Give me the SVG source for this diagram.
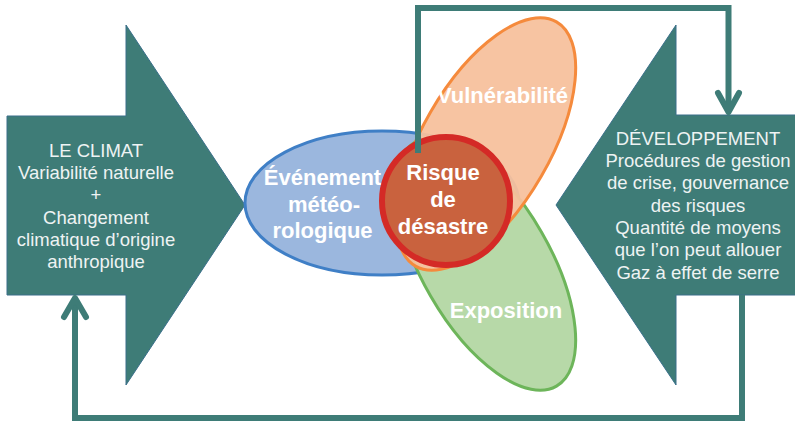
<svg xmlns="http://www.w3.org/2000/svg" width="795" height="422" viewBox="0 0 795 422">
<style>
.arrow{fill:#3e7c77;stroke:#3a6f8a;stroke-width:1}
.conn{fill:none;stroke:#3e7c77;stroke-width:6}
.head{fill:none;stroke:#3e7c77;stroke-width:6;stroke-linecap:round;stroke-linejoin:round}
.lt{font-family:"Liberation Sans",Arial,sans-serif;font-size:18.5px;fill:#eef3f3;text-anchor:middle}
.bt{font-family:"Liberation Sans",Arial,sans-serif;font-size:22px;font-weight:bold;fill:#ffffff;text-anchor:middle}
</style>
<rect width="795" height="422" fill="#ffffff"/>
<g id="climat">
<polygon class="arrow" points="7,116 126,116 126,25 245,205 126,385 126,295 7,295"/>
<text class="lt" x="96" y="157">LE CLIMAT</text>
<text class="lt" x="96" y="179.2">Variabilité naturelle</text>
<text class="lt" x="96" y="201.4">+</text>
<text class="lt" x="96" y="223.6">Changement</text>
<text class="lt" x="96" y="245.8">climatique d’origine</text>
<text class="lt" x="96" y="268">anthropique</text>
</g>
<g id="developpement">
<polygon class="arrow" points="800,115 676,115 676,25 556,205 676,385 676,295 800,295"/>
<text class="lt" x="698" y="145">DÉVELOPPEMENT</text>
<text class="lt" x="698" y="167">Procédures de gestion</text>
<text class="lt" x="698" y="189.3">de crise, gouvernance</text>
<text class="lt" x="698" y="211.6">des risques</text>
<text class="lt" x="698" y="233.9">Quantité de moyens</text>
<text class="lt" x="698" y="256.2">que l’on peut allouer</text>
<text class="lt" x="698" y="278.5">Gaz à effet de serre</text>
</g>
<g id="evenement">
<ellipse cx="382" cy="203" rx="137" ry="72" fill="#9bb7de" stroke="#3f7fc6" stroke-width="3"/>
</g>
<g id="exposition">
<ellipse cx="0" cy="0" rx="141" ry="64" transform="translate(486,264) rotate(60)" fill="#b7d9a8" stroke="#6db55a" stroke-width="3"/>
</g>
<g id="vulnerabilite">
<ellipse cx="0" cy="0" rx="141" ry="64" transform="translate(486,144) rotate(-60)" fill="#f7c19d" fill-opacity="0.95" stroke="#f58a3c" stroke-width="3"/>
</g>
<g id="risque">
<circle cx="446" cy="201" r="64" fill="#c9623e" stroke="#d42a26" stroke-width="6"/>
</g>
<g id="labels">
<text class="bt" x="322.5" y="185">Événement</text>
<text class="bt" x="324" y="212">météo-</text>
<text class="bt" x="322.5" y="238">rologique</text>
<text class="bt" x="502.5" y="103">Vulnérabilité</text>
<text class="bt" x="506" y="318">Exposition</text>
<text class="bt" x="443" y="180">Risque</text>
<text class="bt" x="443" y="207">de</text>
<text class="bt" x="443" y="234">désastre</text>
</g>
<g id="connectors">
<path class="conn" d="M418,153 V8 H728.5 V111"/>
<polyline class="head" points="718,93 728.5,112 739,93"/>
<path class="conn" d="M742,295 V418 H75 V299"/>
<polyline class="head" points="64,317 75,298 86,317"/>
</g>
</svg>
